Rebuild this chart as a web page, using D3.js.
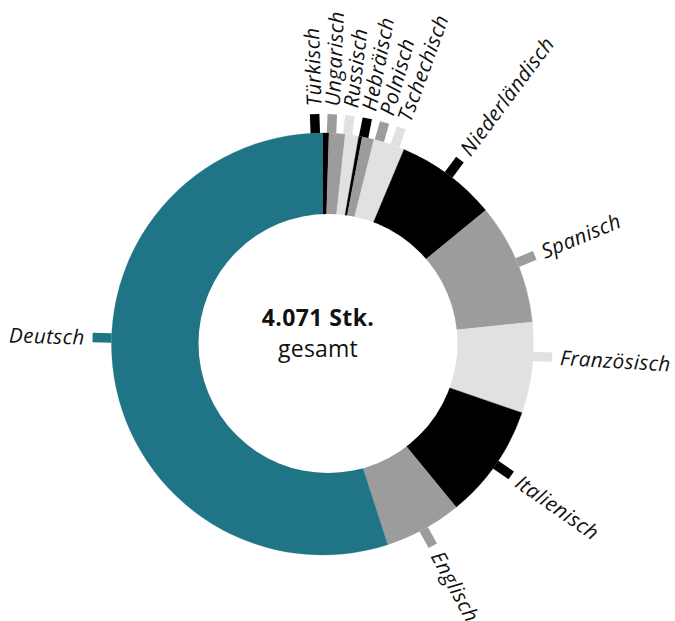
<!DOCTYPE html>
<html>
<head>
<meta charset="utf-8">
<script src="https://cdn.jsdelivr.net/npm/d3@7"></script>
<style>
  html, body { margin: 0; padding: 0; background: #fff; }
  svg { display: block; }
  .lbl { font-family: "Open Sans", sans-serif; font-style: italic; font-weight: 500; font-size: 20.6px; letter-spacing: 0.4px; fill: #111; }
  .total { font-family: "Open Sans", sans-serif; font-weight: 700; font-size: 23px; letter-spacing: 0.4px; fill: #111; }
  .sub { font-family: "Open Sans", sans-serif; font-size: 23px; letter-spacing: 0.2px; fill: #111; }
</style>
</head>
<body>
<svg id="chart" width="675" height="621"></svg>
<script>
// Languages, clockwise from 12 o'clock
const languages = ["Türkisch", "Ungarisch", "Russisch", "Hebräisch", "Polnisch", "Tschechisch",
                   "Niederländisch", "Spanisch", "Französisch", "Italienisch", "Englisch", "Deutsch"];
// Number of pieces per language (total 4.071)
const counts = [20, 50, 42, 11, 37, 97, 316, 377, 283, 358, 241, 2239];
const totalLabel = "4.071 Stk.";
const subLabel = "gesamt";

const palette = ["#000000", "#9c9c9c", "#e1e1e1"];
const teal = "#1f7586";

const width = 675, height = 621;
const cx = 322.5, cy = 344;
const rOuter = 211, rHole = 129.5;
const tickIn = 211, tickOut = 230, labelR = 238;

const svg = d3.select("#chart");
const g = svg.append("g").attr("transform", `translate(${cx},${cy})`);

const data = languages.map((name, i) => ({ name, value: counts[i] }));
const color = d3.scaleOrdinal()
  .domain(languages)
  .range(languages.map((n, i) => n === "Deutsch" ? teal : palette[i % 3]));

const pie = d3.pie().sort(null).value(d => d.value).startAngle(0).endAngle(2 * Math.PI);
const arcs = pie(data);
const arc = d3.arc().innerRadius(0).outerRadius(rOuter);

g.selectAll("path.slice")
  .data(arcs)
  .join("path")
  .attr("class", "slice")
  .attr("d", arc)
  .attr("fill", d => color(d.data.name))
  .attr("stroke", d => color(d.data.name))
  .attr("stroke-width", 0.3);

// white hole of the donut
g.append("circle")
  .attr("cx", 5.5).attr("cy", -0.5)
  .attr("r", rHole)
  .attr("fill", "#fff");

// label angles: slice mid-angle, spread apart where labels crowd
const toDeg = 180 / Math.PI;
const labelNudge = { "Deutsch": 10.6, "Französisch": -3.2 };
let ang = arcs.map(a => (a.startAngle + a.endAngle) / 2 * toDeg + (labelNudge[a.data.name] || 0));
const minGap = 4.4;
for (let it = 0; it < 500; it++) {
  for (let i = 0; i < ang.length - 1; i++) {
    const d = ang[i + 1] - ang[i];
    if (d < minGap) {
      const push = (minGap - d) / 2;
      ang[i] -= push;
      ang[i + 1] += push;
    }
  }
}

const labels = arcs.map((a, i) => ({ name: a.data.name, deg: ang[i] }));
const polar = (r, deg) => {
  const t = deg / toDeg;
  return [r * Math.sin(t), -r * Math.cos(t)];
};
const isLeft = d => Math.sin(d.deg / toDeg) < -0.3;

g.selectAll("line.tick")
  .data(labels)
  .join("line")
  .attr("class", "tick")
  .attr("x1", d => polar(tickIn, d.deg)[0])
  .attr("y1", d => polar(tickIn, d.deg)[1])
  .attr("x2", d => polar(tickOut, d.deg)[0])
  .attr("y2", d => polar(tickOut, d.deg)[1])
  .attr("stroke", d => color(d.name))
  .attr("stroke-width", 9.5);

g.selectAll("text.lbl")
  .data(labels)
  .join("text")
  .attr("class", "lbl")
  .attr("transform", d => {
    const [x, y] = polar(labelR, d.deg);
    const rot = d.deg - 90;
    return `translate(${x},${y}) rotate(${isLeft(d) ? rot - 180 : rot})`;
  })
  .attr("text-anchor", d => isLeft(d) ? "end" : "start")
  .attr("dy", "0.35em")
  .text(d => d.name);

// centre caption
g.append("text").attr("class", "total")
  .attr("x", -4.5).attr("y", -18)
  .attr("text-anchor", "middle")
  .text(totalLabel);
g.append("text").attr("class", "sub")
  .attr("x", -4.5).attr("y", 13)
  .attr("text-anchor", "middle")
  .text(subLabel);
</script>
</body>
</html>
